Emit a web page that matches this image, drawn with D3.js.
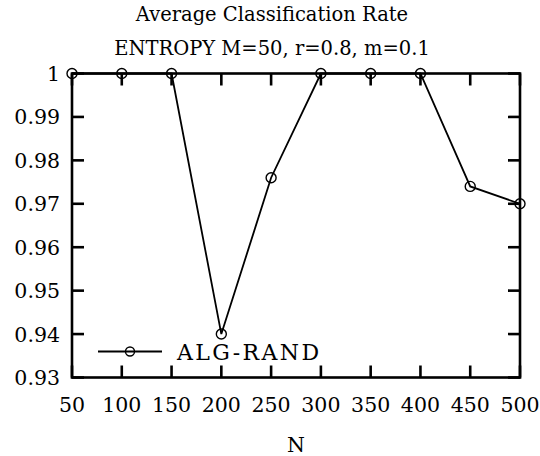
<!DOCTYPE html>
<html>
<head>
<meta charset="utf-8">
<script src="https://cdn.jsdelivr.net/npm/d3@7"></script>
<style>
  body { margin: 0; background: #fff; }
</style>
</head>
<body>
<div id="container"></div>
<script>
// data
const nValues = [50, 100, 150, 200, 250, 300, 350, 400, 450, 500]
const rates = [1, 1, 1, 0.94, 0.976, 1, 1, 1, 0.974, 0.970]
const yTicks = [0.93, 0.94, 0.95, 0.96, 0.97, 0.98, 0.99, 1]
const titleLines = ['Average Classification Rate', 'ENTROPY M=50, r=0.8, m=0.1']
const seriesName = 'ALG-RAND'

// layout
const width = 540
const height = 456
const margin = {top: 73.5, right: 20, bottom: 78.5, left: 72}
const tickLen = 12
const font = "'DejaVu Serif', serif"

const svg = d3.select('#container').append('svg')
  .attr('width', width)
  .attr('height', height)
  .style('font-family', font)
  .style('font-size', '20.5px')

const x = d3.scaleLinear().domain([50, 500]).range([margin.left, width - margin.right])
const y = d3.scaleLinear().domain([0.93, 1]).range([height - margin.bottom, margin.top])

// title
svg.selectAll('.title').data(titleLines).join('text')
  .attr('class', 'title')
  .attr('x', 272)
  .attr('y', (d, i) => 21 + i * 34)
  .attr('text-anchor', 'middle')
  .style('font-size', '19.5px')
  .text(d => d)

// ticks (inward, mirrored)
const tickG = svg.append('g').attr('stroke', '#000').attr('stroke-width', 2.6)
nValues.forEach(v => {
  tickG.append('line').attr('x1', x(v)).attr('x2', x(v)).attr('y1', y(0.93)).attr('y2', y(0.93) - tickLen)
  tickG.append('line').attr('x1', x(v)).attr('x2', x(v)).attr('y1', y(1)).attr('y2', y(1) + tickLen)
})
yTicks.forEach(v => {
  tickG.append('line').attr('x1', x(50)).attr('x2', x(50) + tickLen).attr('y1', y(v)).attr('y2', y(v))
  tickG.append('line').attr('x1', x(500)).attr('x2', x(500) - tickLen).attr('y1', y(v)).attr('y2', y(v))
})

// frame
svg.append('rect')
  .attr('x', x(50)).attr('y', y(1))
  .attr('width', x(500) - x(50)).attr('height', y(0.93) - y(1))
  .attr('fill', 'none').attr('stroke', '#000').attr('stroke-width', 2.6)

// tick labels
svg.selectAll('.xlab').data(nValues).join('text')
  .attr('class', 'xlab')
  .attr('x', d => x(d))
  .attr('y', 412)
  .attr('text-anchor', 'middle')
  .text(d => d)

svg.selectAll('.ylab').data(yTicks).join('text')
  .attr('class', 'ylab')
  .attr('x', 60)
  .attr('y', d => y(d) + 7.5)
  .attr('text-anchor', 'end')
  .text(d => d3.format('')(d))

svg.append('text')
  .attr('x', x(275))
  .attr('y', 452)
  .attr('text-anchor', 'middle')
  .text('N')

// series
const line = d3.line().x((d, i) => x(nValues[i])).y(d => y(d))
svg.append('path')
  .datum(rates)
  .attr('d', line)
  .attr('fill', 'none')
  .attr('stroke', '#000')
  .attr('stroke-width', 1.8)

svg.selectAll('.pt').data(rates).join('circle')
  .attr('class', 'pt')
  .attr('cx', (d, i) => x(nValues[i]))
  .attr('cy', d => y(d))
  .attr('r', 5)
  .attr('fill', 'none')
  .attr('stroke', '#000')
  .attr('stroke-width', 1.4)

// legend
const legY = 351.5
svg.append('line')
  .attr('x1', 98).attr('x2', 162).attr('y1', legY).attr('y2', legY)
  .attr('stroke', '#000').attr('stroke-width', 1.8)
svg.append('circle')
  .attr('cx', 130).attr('cy', legY).attr('r', 4.5)
  .attr('fill', 'none').attr('stroke', '#000').attr('stroke-width', 1.4)
svg.append('text')
  .attr('x', 177).attr('y', 359.5)
  .style('font-size', '22px')
  .style('letter-spacing', '2.4px')
  .text(seriesName)
</script>
</body>
</html>
